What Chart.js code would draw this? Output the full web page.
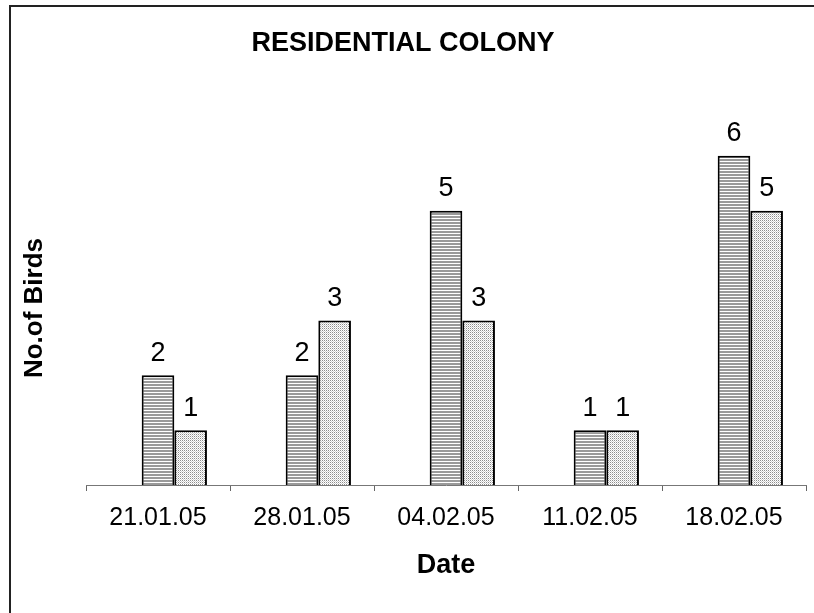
<!DOCTYPE html>
<html>
<head>
<meta charset="utf-8">
<script src="https://cdn.jsdelivr.net/npm/chart.js@4"></script>
<style>
  html, body { margin: 0; padding: 0; background: #fff; overflow: hidden; }
  #wrap { position: relative; width: 814px; height: 613px; }
  #frame { position: absolute; left: 9px; top: 5px; width: 900px; height: 700px; border: 2px solid #222; box-sizing: border-box; }
  canvas { position: absolute; left: 0; top: 0; }
</style>
</head>
<body>
<div id="wrap">
  <div id="frame"></div>
  <canvas id="grafico" width="814" height="613"></canvas>
</div>
<script>
// dados do grafico
var datas = ['21.01.05', '28.01.05', '04.02.05', '11.02.05', '18.02.05'];
var vazio = [null, null, null, null, null]; // serie vazia (ocupa o primeiro lugar do grupo)
var serie1 = [2, 2, 5, 1, 6];
var serie2 = [1, 3, 3, 1, 5];

var fonte = "'Liberation Sans', Arial, sans-serif";

// padrao de listras horizontais
function padraoListras() {
  var c = document.createElement('canvas');
  c.width = 4; c.height = 3;
  var ctx = c.getContext('2d');
  ctx.fillStyle = '#ffffff';
  ctx.fillRect(0, 0, 4, 3);
  ctx.fillStyle = '#9a9a9a';
  ctx.fillRect(0, 0, 4, 2);
  return ctx.createPattern(c, 'repeat');
}

// padrao pontilhado
function padraoPontos() {
  var c = document.createElement('canvas');
  c.width = 2; c.height = 2;
  var ctx = c.getContext('2d');
  ctx.fillStyle = '#ffffff';
  ctx.fillRect(0, 0, 2, 2);
  ctx.fillStyle = '#8c8c8c';
  ctx.fillRect(0, 0, 1, 1);
  ctx.fillStyle = '#d0d0d0';
  ctx.fillRect(1, 1, 1, 1);
  return ctx.createPattern(c, 'repeat');
}

// rotulos em cima das barras + titulo do eixo y
var rotulos = {
  id: 'rotulos',
  afterDatasetsDraw: function (chart) {
    var ctx = chart.ctx;
    ctx.save();
    ctx.font = '27px ' + fonte;
    ctx.fillStyle = '#000';
    ctx.textAlign = 'center';
    ctx.textBaseline = 'middle';
    chart.data.datasets.forEach(function (ds, i) {
      var meta = chart.getDatasetMeta(i);
      meta.data.forEach(function (el, j) {
        var v = ds.data[j];
        if (v == null) return;
        ctx.fillText(String(v), el.x, el.y - 22);
      });
    });
    ctx.restore();

    // titulo do eixo y (um pouco abaixo do centro, como no original)
    ctx.save();
    ctx.translate(35, 308);
    ctx.rotate(-Math.PI / 2);
    ctx.font = 'bold 26px ' + fonte;
    ctx.fillStyle = '#000';
    ctx.textAlign = 'center';
    ctx.textBaseline = 'middle';
    ctx.fillText('No.of Birds', 0, 0);
    ctx.restore();
  }
};

var config = {
  type: 'bar',
  data: {
    labels: datas,
    datasets: [
      { label: '', data: vazio },
      { label: 'Serie 1', data: serie1, backgroundColor: padraoListras(), borderColor: '#000', borderWidth: 2 },
      { label: 'Serie 2', data: serie2, backgroundColor: padraoPontos(), borderColor: '#000', borderWidth: 2 }
    ]
  },
  options: {
    responsive: false,
    animation: false,
    events: [],
    layout: { padding: { top: 0, right: 8, bottom: 0, left: 0 } },
    datasets: { bar: { categoryPercentage: 0.68, barPercentage: 1.0 } },
    plugins: {
      legend: { display: false },
      tooltip: { enabled: false },
      title: {
        display: true,
        text: 'RESIDENTIAL COLONY',
        color: '#000',
        font: { family: fonte, size: 27, weight: 'bold' },
        padding: { top: 27, bottom: 41.6 }
      }
    },
    scales: {
      x: {
        grid: { display: true, drawOnChartArea: false, drawTicks: true, tickLength: 6, offset: true, color: '#666' },
        border: { display: true, color: '#777', width: 1 },
        ticks: { color: '#000', font: { family: fonte, size: 25 }, padding: 12, maxRotation: 0 },
        title: { display: true, text: 'Date', color: '#000', font: { family: fonte, size: 27, weight: 'bold' }, padding: { top: 0, bottom: 31 } },
        afterFit: function (scale) { scale.height = 613 - 485; }
      },
      y: {
        min: 0,
        max: 7,
        grid: { display: false },
        border: { display: false },
        ticks: { display: false, stepSize: 1 },
        title: { display: false },
        afterFit: function (scale) { scale.width = 86; }
      }
    }
  },
  plugins: [rotulos]
};

var grafico = new Chart(document.getElementById('grafico'), config);
</script>
</body>
</html>
